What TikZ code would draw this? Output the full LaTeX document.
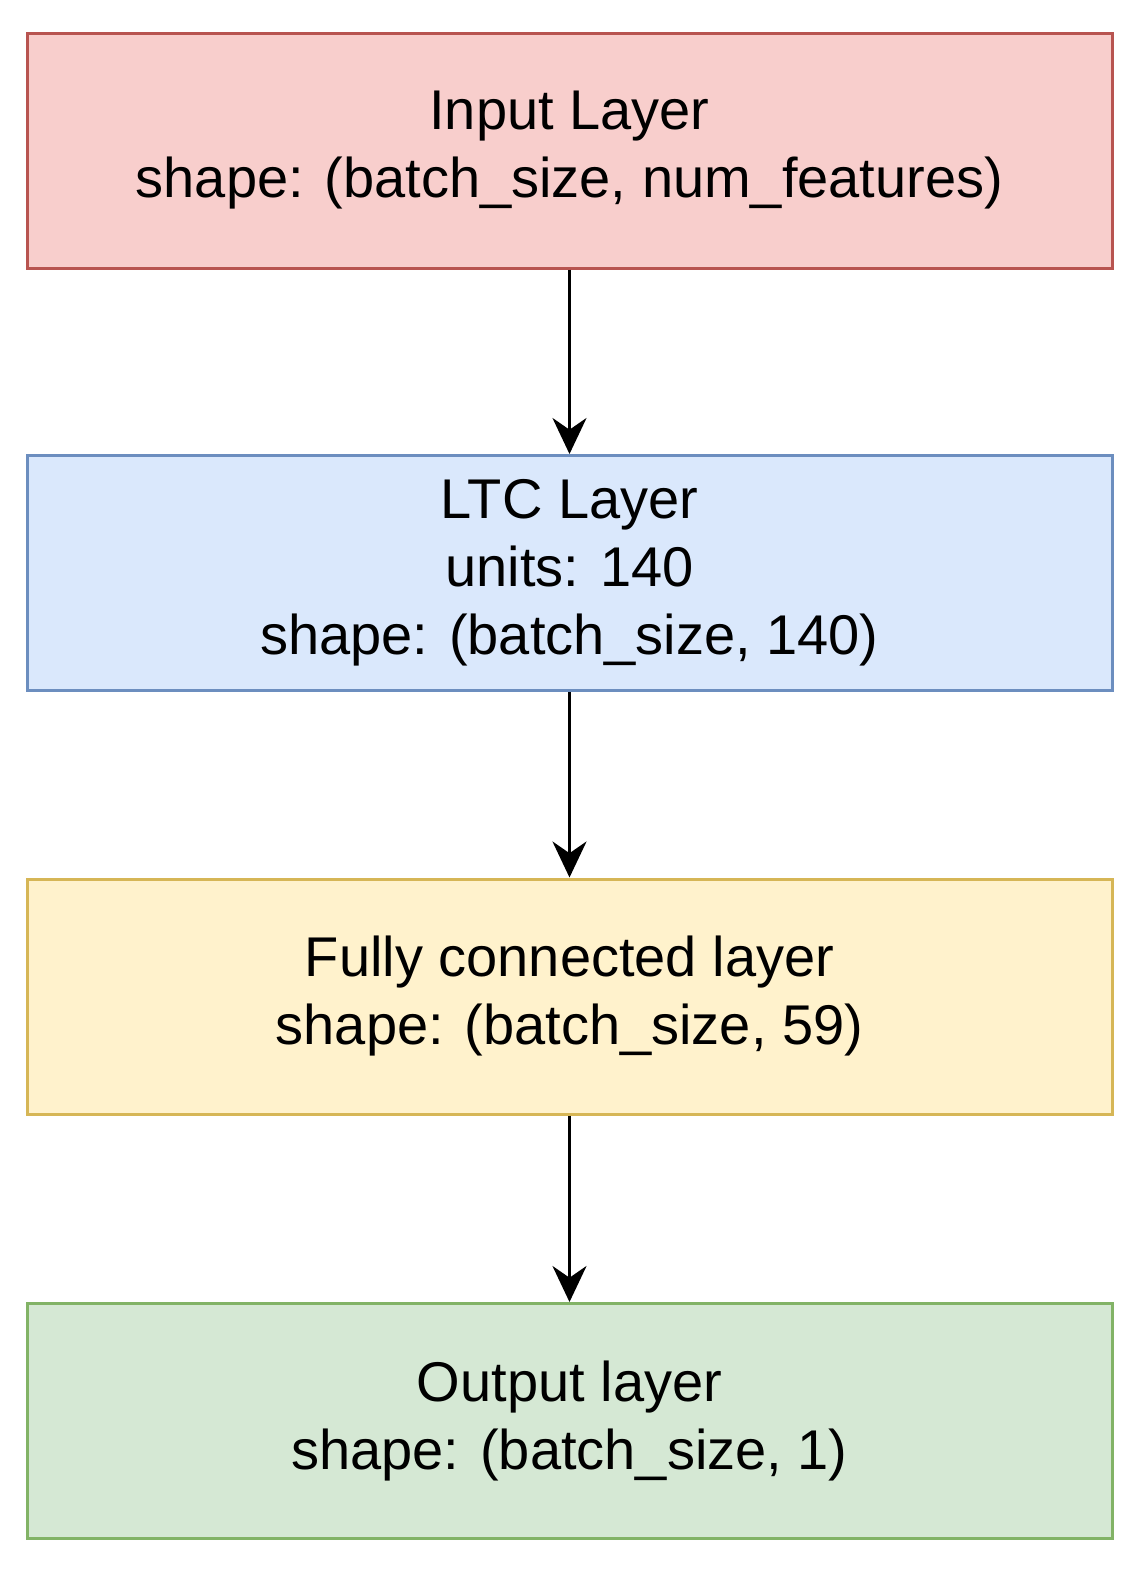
\documentclass[tikz,border=0pt]{standalone}
\usepackage{fontspec}
\setmainfont{Liberation Sans}
\usetikzlibrary{arrows.meta}
\definecolor{rf}{HTML}{F8CECC}\definecolor{rd}{HTML}{B85450}
\definecolor{bf}{HTML}{DAE8FC}\definecolor{bd}{HTML}{6C8EBF}
\definecolor{yf}{HTML}{FFF2CC}\definecolor{yd}{HTML}{D6B656}
\definecolor{gf}{HTML}{D5E8D4}\definecolor{gd}{HTML}{82B366}
\begin{document}
\begin{tikzpicture}[x=0.5pt,y=-0.5pt,
  box/.style={draw, line width=1.5pt, minimum width=542.5pt, minimum height=117.5pt, align=center, inner sep=0pt,
    font=\fontsize{28}{34}\selectfont},
  arr/.style={-{Stealth[length=18pt,width=17pt]}, line width=1.5pt}]
\useasboundingbox (0,0) rectangle (1146,1585);
\node[box, fill=rf, draw=rd] (in) at (569.5,150.5) {Input Layer\\shape: (batch\_size, num\_features)};
\node[box, fill=bf, draw=bd] (ltc) at (569.5,573) {LTC Layer\\units: 140\\shape: (batch\_size, 140)};
\node[box, fill=yf, draw=yd] (fc) at (569.5,996.5) {Fully connected layer\\shape: (batch\_size, 59)};
\node[box, fill=gf, draw=gd] (out) at (569.5,1421) {Output layer\\shape: (batch\_size, 1)};
\draw[arr] (in) -- (ltc);
\draw[arr] (ltc) -- (fc);
\draw[arr] (fc) -- (out);
\end{tikzpicture}
\end{document}
